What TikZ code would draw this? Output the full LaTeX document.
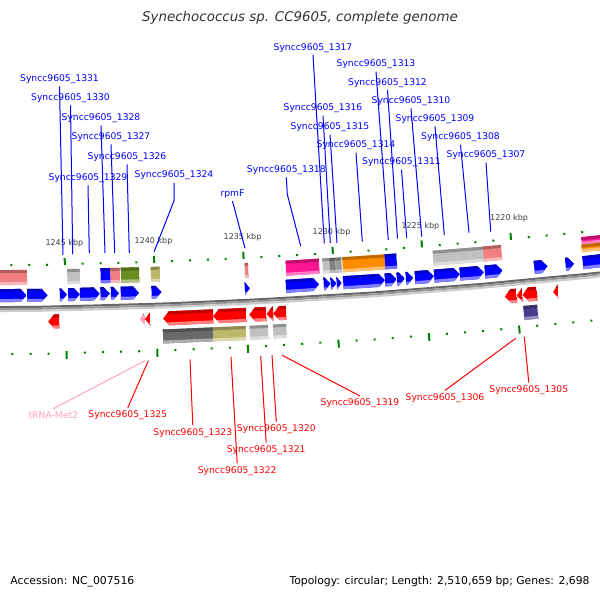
\documentclass[tikz,border=0pt]{standalone}
\usepackage{fontspec}
\setmainfont{DejaVu Sans}
\definecolor{cogpink}{RGB}{240,128,128}
\definecolor{cogsilver}{RGB}{192,192,192}
\definecolor{cogolive}{RGB}{107,142,35}
\definecolor{cogkhaki}{RGB}{189,183,107}
\definecolor{cogmagenta}{RGB}{255,20,147}
\definecolor{cogorange}{RGB}{255,140,0}
\definecolor{coggray}{RGB}{128,128,128}
\definecolor{cogdark}{RGB}{105,105,105}
\definecolor{cogslate}{RGB}{72,61,139}
\definecolor{trnapink}{RGB}{255,160,200}
\definecolor{tickgreen}{RGB}{0,128,0}
\tikzset{
  toplab/.style={text=blue, inner sep=1.2pt, font=\fontsize{4.6}{5}\selectfont},
  botlab/.style={text=red, inner sep=1.2pt, font=\fontsize{4.6}{5}\selectfont},
  topline/.style={blue, line width=0.5pt},
  botline/.style={red, line width=0.5pt},
  kbplab/.style={text=black!75, inner sep=0pt, font=\fontsize{4}{5}\selectfont},
  tickdot/.style={tickgreen, line width=1pt}
}
\newcommand\cogbox[5]{%
  \pgfmathsetmacro\angL{ang(#1,(#3+#4)/2)}%
  \pgfmathsetmacro\angR{ang(#2,(#3+#4)/2)}%
  \pgfmathsetmacro\radA{6200+#3}%
  \pgfmathsetmacro\radB{6200+#4}%
  \pgfmathsetmacro\radC{6200+#3+3}%
  \pgfmathsetmacro\radD{6200+#4-3}%
  \fill[#5] (\angL:\radA) -- (\angR:\radA) -- (\angR:\radB) -- (\angL:\radB) -- cycle;
  \fill[#5!75!black] (\angL:\radA) -- (\angR:\radA) -- (\angR:\radC) -- (\angL:\radC) -- cycle;
  \fill[#5!55!white] (\angL:\radD) -- (\angR:\radD) -- (\angR:\radB) -- (\angL:\radB) -- cycle;
}
\newcommand\fwdgene[3]{%
  \pgfmathsetmacro\angL{ang(#1,30)}%
  \pgfmathsetmacro\angR{ang(#2,30)}%
  \pgfmathsetmacro\angH{ang(max(#1,#2-6),30)}%
  \begin{scope}
    \clip (\angL:6224) -- (\angH:6224) -- (\angR:6230.5) -- (\angH:6237) -- (\angL:6237) -- cycle;
    \fill[#3] (\angL:6223) -- (\angR:6223) -- (\angR:6238) -- (\angL:6238) -- cycle;
    \fill[#3!75!black] (\angL:6223) -- (\angR:6223) -- (\angR:6226.5) -- (\angL:6226.5) -- cycle;
    \fill[#3!50!white] (\angL:6234) -- (\angR:6234) -- (\angR:6238) -- (\angL:6238) -- cycle;
  \end{scope}
}
\newcommand\revgene[3]{%
  \pgfmathsetmacro\angL{ang(#1,57)}%
  \pgfmathsetmacro\angR{ang(#2,57)}%
  \pgfmathsetmacro\angH{ang(min(#2,#1+6),57)}%
  \begin{scope}
    \clip (\angL:6257) -- (\angH:6250) -- (\angR:6250) -- (\angR:6264) -- (\angH:6264) -- cycle;
    \fill[#3] (\angL:6249) -- (\angR:6249) -- (\angR:6265) -- (\angL:6265) -- cycle;
    \fill[#3!75!black] (\angL:6249) -- (\angR:6249) -- (\angR:6253) -- (\angL:6253) -- cycle;
    \fill[#3!50!white] (\angL:6261) -- (\angR:6261) -- (\angR:6265) -- (\angL:6265) -- cycle;
  \end{scope}
}
\begin{document}
\begin{tikzpicture}[x=0.5pt,y=-0.5pt,
  declare function={ang(\px,\pd)=90-asin((\px+61)/(6200+\pd)); kang(\pk)=88.8356-(1245-\pk)*0.1652;}]
\fill[white] (0,0) rectangle (600,600);
\useasboundingbox (0,0) rectangle (600,600);

\node[font=\fontsize{6.7}{8}\selectfont\itshape, text=black!80] (title) at (300,18) {Synechococcus sp. CC9605, complete genome};
\node[anchor=west, inner sep=0pt, font=\fontsize{5.4}{7}\selectfont] (acc) at (10,582) {Accession: NC\_007516};
\node[anchor=east, inner sep=0pt, font=\fontsize{5.4}{7}\selectfont] (topo) at (590,582) {Topology: circular; Length: 2,510,659 bp; Genes: 2,698};

\begin{scope}
\clip (0,0) rectangle (600,600);
\begin{scope}[shift={(-61,-5934.3)}]
\draw[black!60, line width=1pt] plot[domain=-10:610, samples=25] ({ang(\x,42)}:6242);
\draw[black!40, line width=1pt] plot[domain=-10:610, samples=25] ({ang(\x,44)}:6244);
\draw[black!20, line width=1pt] plot[domain=-10:610, samples=25] ({ang(\x,46)}:6246);

\foreach \p in {1216,...,1248}{
  \pgfmathsetmacro\ka{kang(\p)}
  \pgfmathtruncatemacro\km{mod(\p,5)}
  \ifnum\km=0
    \draw[tickdot] (\ka:6194) -- (\ka:6201);
    \draw[tickdot] (\ka:6287) -- (\ka:6295);
    \node[kbplab] (k\p) at (\ka:6179.5) {\p\ kbp};
  \else
    \draw[tickdot] (\ka:6199) -- (\ka:6201);
    \draw[tickdot] (\ka:6288) -- (\ka:6290);
  \fi
}

\cogbox{-10}{27}{5}{20}{cogpink}
\cogbox{67.3}{80}{5}{20}{cogsilver}
\cogbox{100.7}{110.7}{5}{20}{blue}
\cogbox{110.7}{120}{5}{20}{cogpink}
\cogbox{121}{139.3}{5}{20}{cogolive}
\cogbox{151}{160}{5}{20}{cogkhaki}
\cogbox{245}{248.3}{5}{20}{cogpink}
\cogbox{286}{319.3}{5}{20}{cogmagenta}
\cogbox{322.7}{329.7}{5}{20}{cogsilver}
\cogbox{329.7}{335.7}{5}{20}{coggray}
\cogbox{335.7}{341.7}{5}{20}{coggray!80!white}
\cogbox{342.7}{385}{5}{20}{cogorange}
\cogbox{385}{396.7}{5}{20}{blue}
\cogbox{433.3}{458.3}{5}{20}{cogsilver}
\cogbox{458.3}{483.3}{5}{20}{cogsilver}
\cogbox{483.3}{501.7}{5}{20}{cogpink}
\cogbox{581.7}{610}{5}{12.5}{cogmagenta}
\cogbox{581.7}{610}{12.5}{20}{cogorange}

\fwdgene{-10}{26.7}{blue}
\fwdgene{27.3}{47.7}{blue}
\fwdgene{60}{67.3}{blue}
\fwdgene{68.3}{80}{blue}
\fwdgene{80}{100}{blue}
\fwdgene{100.7}{110}{blue}
\fwdgene{111}{119.3}{blue}
\fwdgene{121}{139.3}{blue}
\fwdgene{151.7}{161.7}{blue}
\fwdgene{245}{250}{blue}
\fwdgene{286}{319.3}{blue}
\fwdgene{324}{330.7}{blue}
\fwdgene{330.7}{336.7}{blue}
\fwdgene{336.7}{341.7}{blue}
\fwdgene{343.3}{385}{blue}
\fwdgene{385}{396.7}{blue}
\fwdgene{397}{405}{blue}
\fwdgene{406}{413.3}{blue}
\fwdgene{415}{434}{blue}
\fwdgene{434.3}{460}{blue}
\fwdgene{460}{484}{blue}
\fwdgene{485}{502.7}{blue}
\fwdgene{534.3}{547.7}{blue}
\fwdgene{565.7}{574.3}{blue}
\fwdgene{583}{610}{blue}

\revgene{48.3}{59.3}{red}
\revgene{140}{145}{trnapink}
\revgene{145}{150.7}{red}
\revgene{163.3}{213.3}{red}
\revgene{213.3}{246.7}{red}
\revgene{249.3}{266.7}{red}
\revgene{266.7}{273.3}{red}
\revgene{273.3}{286.7}{red}
\revgene{505}{516.7}{red}
\revgene{516.7}{522.7}{red}
\revgene{522.7}{537.3}{red}
\revgene{553.3}{558.3}{red}

\cogbox{163.3}{213.3}{68}{82}{cogdark}
\cogbox{213.3}{246}{68}{82}{cogkhaki}
\cogbox{250}{268.3}{68}{82}{cogsilver}
\cogbox{273.3}{286.7}{68}{82}{cogsilver}
\cogbox{524}{538}{68}{82}{cogslate}
\end{scope}
\end{scope}

\node[toplab] (l1331) at (59.5,79) {Syncc9605\_1331};
\node[toplab] (l1330) at (70.5,98) {Syncc9605\_1330};
\node[toplab] (l1328) at (101,118) {Syncc9605\_1328};
\node[toplab] (l1327) at (111,137) {Syncc9605\_1327};
\node[toplab] (l1326) at (127,157) {Syncc9605\_1326};
\node[toplab] (l1329) at (88,178) {Syncc9605\_1329};
\node[toplab] (l1324) at (174,175.5) {Syncc9605\_1324};
\node[toplab] (lrpmF) at (232.5,194) {rpmF};
\node[toplab] (l1318) at (286.3,170) {Syncc9605\_1318};
\node[toplab] (l1317) at (313,47.7) {Syncc9605\_1317};
\node[toplab] (l1316) at (323,108.3) {Syncc9605\_1316};
\node[toplab] (l1315) at (330,127.3) {Syncc9605\_1315};
\node[toplab] (l1314) at (356,145.3) {Syncc9605\_1314};
\node[toplab] (l1313) at (376,64.3) {Syncc9605\_1313};
\node[toplab] (l1312) at (387.5,82.7) {Syncc9605\_1312};
\node[toplab] (l1310) at (411,101) {Syncc9605\_1310};
\node[toplab] (l1309) at (435,119) {Syncc9605\_1309};
\node[toplab] (l1308) at (460.5,137.3) {Syncc9605\_1308};
\node[toplab] (l1307) at (486,155.3) {Syncc9605\_1307};
\node[toplab] (l1311) at (401.5,162.3) {Syncc9605\_1311};

\coordinate (t1331) at (63,255);
\coordinate (t1330) at (72.7,254);
\coordinate (t1328) at (105,253);
\coordinate (t1327) at (114.7,253);
\coordinate (t1326) at (129.3,253);
\coordinate (t1329) at (89.3,253);
\coordinate (t1324) at (154,252);
\coordinate (trpmF) at (245,248.3);
\coordinate (t1318) at (300.7,246);
\coordinate (t1317) at (324.3,243.5);
\coordinate (t1316) at (330.3,243);
\coordinate (t1315) at (337,243);
\coordinate (t1314) at (362.3,241.5);
\coordinate (t1313) at (388.3,240);
\coordinate (t1312) at (397.5,238.5);
\coordinate (t1311) at (406.7,238);
\coordinate (t1310) at (421.7,236.7);
\coordinate (t1309) at (444.3,235);
\coordinate (t1308) at (469,232.7);
\coordinate (t1307) at (490.7,231.7);

\draw[topline] (l1331.south) -- (t1331);
\draw[topline] (l1330.south) -- (t1330);
\draw[topline] (l1328.south) -- (t1328);
\draw[topline] (l1327.south) -- (t1327);
\draw[topline] (l1326.south) -- (t1326);
\draw[topline] (l1329.south) -- (t1329);
\draw[topline] (l1324.south) -- ++(0,18) -- (t1324);
\draw[topline] (lrpmF.south) -- (trpmF);
\draw[topline] (l1318.south) -- ++(1,17) -- (t1318);
\draw[topline] (l1317.south) -- (t1317);
\draw[topline] (l1316.south) -- (t1316);
\draw[topline] (l1315.south) -- (t1315);
\draw[topline] (l1314.south) -- (t1314);
\draw[topline] (l1313.south) -- (t1313);
\draw[topline] (l1312.south) -- (t1312);
\draw[topline] (l1311.south) -- (t1311);
\draw[topline] (l1310.south) -- (t1310);
\draw[topline] (l1309.south) -- (t1309);
\draw[topline] (l1308.south) -- (t1308);
\draw[topline] (l1307.south) -- (t1307);

\node[botlab, text=trnapink] (ltrna) at (53.3,415) {tRNA-Met2};
\node[botlab] (l1325) at (127.8,415) {Syncc9605\_1325};
\node[botlab] (l1323) at (192.8,432.7) {Syncc9605\_1323};
\node[botlab] (l1322) at (237.2,470.7) {Syncc9605\_1322};
\node[botlab] (l1321) at (266.2,450) {Syncc9605\_1321};
\node[botlab] (l1320) at (276.3,429.3) {Syncc9605\_1320};
\node[botlab] (l1319) at (360,403.3) {Syncc9605\_1319};
\node[botlab] (l1306) at (445,397.7) {Syncc9605\_1306};
\node[botlab] (l1305) at (528.8,390) {Syncc9605\_1305};

\coordinate (btrna) at (145,360.7);
\coordinate (b1325) at (148.3,360.7);
\coordinate (b1323) at (190,359.3);
\coordinate (b1322) at (231,356.7);
\coordinate (b1321) at (260.7,356);
\coordinate (b1320) at (272,355);
\coordinate (b1319) at (281.7,355);
\coordinate (b1306) at (515.7,338.3);
\coordinate (b1305) at (524.3,336.7);

\draw[botline, trnapink] (ltrna.north) -- (btrna);
\draw[botline] (l1325.north) -- (b1325);
\draw[botline] (l1323.north) -- (b1323);
\draw[botline] (l1322.north) -- (b1322);
\draw[botline] (l1321.north) -- (b1321);
\draw[botline] (l1320.north) -- (b1320);
\draw[botline] (l1319.north) -- (b1319);
\draw[botline] (l1306.north) -- (b1306);
\draw[botline] (l1305.north) -- (b1305);
\end{tikzpicture}
\end{document}
